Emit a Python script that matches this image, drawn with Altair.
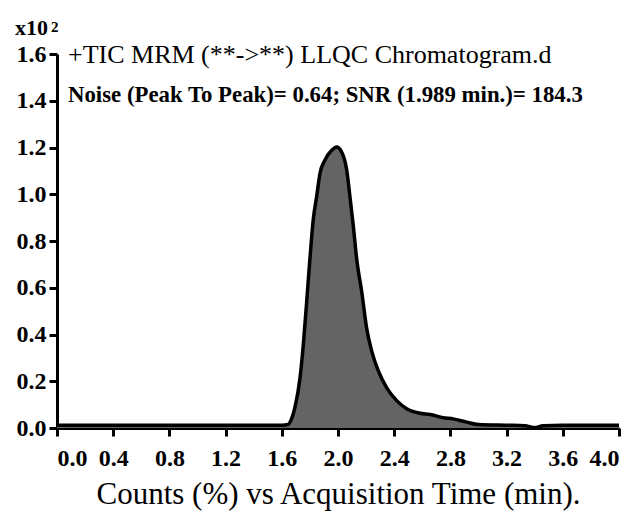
import altair as alt
import pandas as pd

# Chromatogram trace (time in min, counts x10^2)
time = [0.0, 0.5, 1.0, 1.5, 1.60, 1.644, 1.67, 1.694, 1.73, 1.753, 1.777, 1.80, 1.824, 1.848,
        1.872, 1.907, 1.955, 1.99, 2.026, 2.062, 2.085, 2.109, 2.133, 2.169, 2.204,
        2.24, 2.287, 2.346, 2.418, 2.489, 2.584, 2.655, 2.75, 2.82, 2.916, 3.0,
        3.2, 3.33, 3.40, 3.46, 3.6, 3.8, 4.0]
counts = [0.012, 0.012, 0.012, 0.012, 0.012, 0.015, 0.04, 0.089, 0.216, 0.356, 0.54, 0.723, 0.892, 0.99,
          1.09, 1.146, 1.188, 1.202, 1.181, 1.104, 0.99, 0.864, 0.723, 0.582, 0.427,
          0.329, 0.244, 0.173, 0.117, 0.082, 0.063, 0.058, 0.044, 0.039, 0.025, 0.015,
          0.012, 0.010, 0.002, 0.010, 0.012, 0.012, 0.012]

y_ticks = [0.0, 0.2, 0.4, 0.6, 0.8, 1.0, 1.2, 1.4, 1.6]
x_ticks = [0.0, 0.4, 0.8, 1.2, 1.6, 2.0, 2.4, 2.8, 3.2, 3.6, 4.0]

title_text = "+TIC MRM (**->**) LLQC Chromatogram.d"
noise_text = "Noise (Peak To Peak)= 0.64; SNR (1.989 min.)= 184.3"
x_title = "Counts (%) vs Acquisition Time (min)."

df = pd.DataFrame({"t": time, "v": counts})
one = pd.DataFrame({"k": [0]})

SERIF = "Liberation Serif"

x_enc = alt.X("t:Q", scale=alt.Scale(domain=[0, 4], nice=False, zero=False),
              axis=alt.Axis(values=x_ticks, format=".1f", title=x_title,
                            titleFont=SERIF, titleFontSize=31, titleFontWeight="normal",
                            titleColor="black", titlePadding=9,
                            labelFont=SERIF, labelFontSize=24, labelFontWeight="bold",
                            labelPadding=10, grid=False))
y_enc = alt.Y("v:Q", scale=alt.Scale(domain=[0, 1.6], nice=False),
              axis=alt.Axis(values=y_ticks, format=".1f", title=None,
                            labelFont=SERIF, labelFontSize=24, labelFontWeight="bold",
                            labelPadding=3, grid=False))

area = alt.Chart(df).mark_area(
    color="#646464", opacity=1, interpolate="monotone",
    line={"color": "black", "strokeWidth": 3.5}
).encode(x=x_enc, y=y_enc)

def label(txt, x, y, size, weight):
    return alt.Chart(one).mark_text(
        text=txt, align="left", baseline="alphabetic", font=SERIF,
        fontSize=size, fontWeight=weight, color="black"
    ).encode(x=alt.value(x), y=alt.value(y))

chart = alt.layer(
    area,
    label(title_text, 11, 9, 26, "normal"),
    label(noise_text, 11, 48, 22.8, "bold"),
    label("x10", -42, -19, 22, "bold"),
    label("2", -6, -22, 15, "bold"),
).properties(
    width=562, height=374,
    autosize=alt.AutoSizeParams(type="none"),
    padding={"left": 49, "top": 46, "right": 11, "bottom": 85},
).configure_view(stroke=None).configure_axis(
    domainColor="black", domainWidth=3, tickColor="black", tickWidth=3, tickSize=8,
    labelColor="black"
)

chart.save("out.html", embed_options={"renderer": "svg", "actions": False})
